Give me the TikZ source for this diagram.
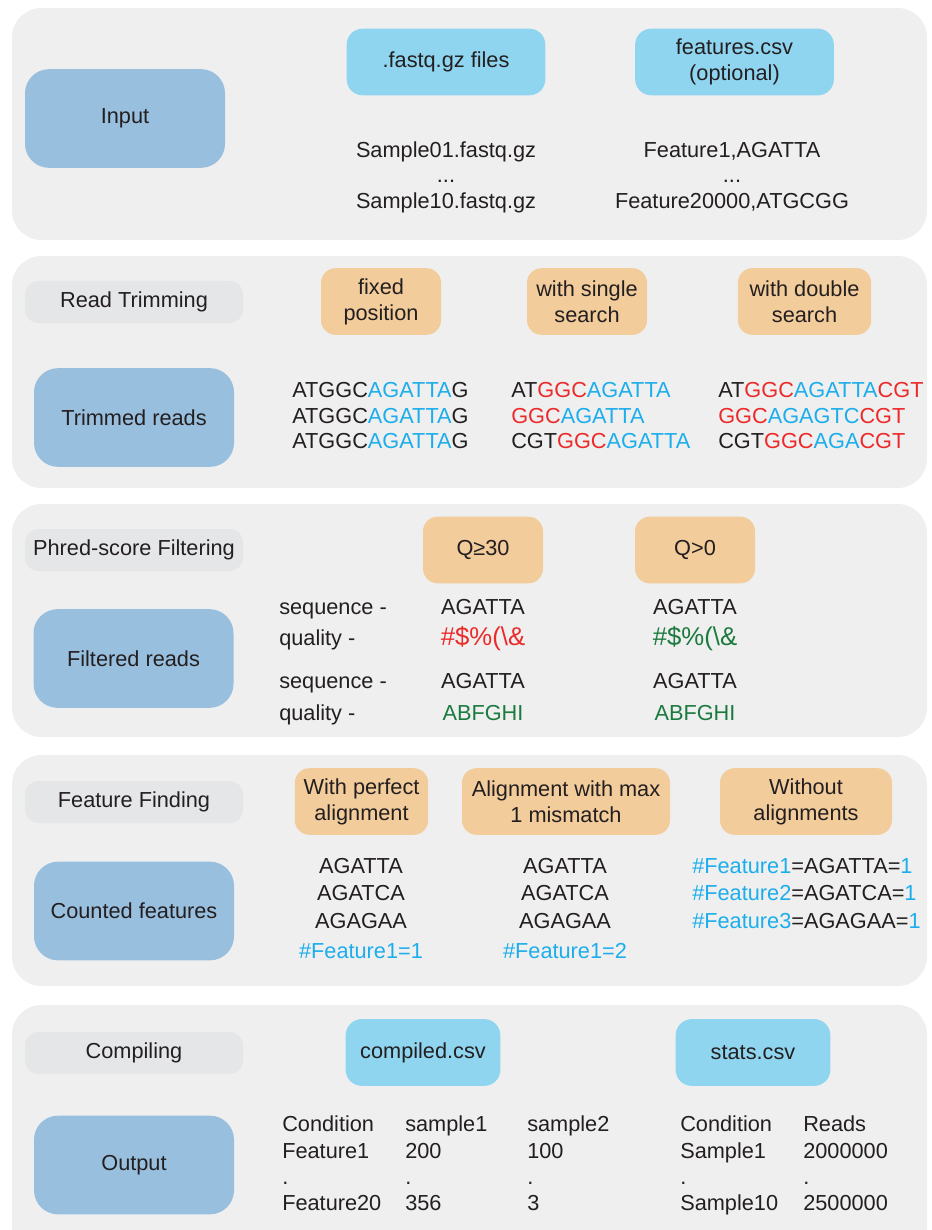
\documentclass[tikz,border=0pt]{standalone}
\usepackage{fontspec}
\setmainfont{Liberation Sans}
\usetikzlibrary{arrows}
\definecolor{panelgray}{HTML}{EFEFEF}
\definecolor{stageblue}{HTML}{99BFDF}
\definecolor{filecyan}{HTML}{8FD5F0}
\definecolor{modeorange}{HTML}{F2CC9B}
\definecolor{taggray}{HTML}{E5E6E8}
\definecolor{ink}{HTML}{231F20}
\definecolor{seqcyan}{HTML}{1CAEEC}
\definecolor{seqred}{HTML}{EC2A2A}
\definecolor{seqgreen}{HTML}{1B7A3E}
\newcommand{\seqc}[1]{\textcolor{seqcyan}{#1}}
\newcommand{\seqr}[1]{\textcolor{seqred}{#1}}
\newcommand{\seqg}[1]{\textcolor{seqgreen}{#1}}
\newcommand{\skipdots}{...}
\newcommand{\qualsym}{{\fontsize{19.3}{19.5}\selectfont\#\$\%(\textbackslash\&}}
\tikzstyle{panel}=[fill=panelgray,rounded corners=22pt]
\tikzstyle{stagebox}=[fill=stageblue,rounded corners=18pt,minimum width=150pt,minimum height=74pt,inner sep=0pt]
\tikzstyle{tagbox}=[fill=taggray,rounded corners=10pt,minimum width=163.5pt,minimum height=31.5pt,inner sep=0pt]
\tikzstyle{filebox}=[fill=filecyan,rounded corners=12pt,minimum height=50pt,inner sep=0pt,align=center]
\tikzstyle{modebox}=[fill=modeorange,rounded corners=11pt,minimum height=50pt,inner sep=0pt,align=center]
\tikzstyle{txt}=[anchor=base,inner sep=0pt]
\tikzstyle{ltxt}=[anchor=base west,inner sep=0pt]

\begin{document}
\begin{tikzpicture}[x=0.75pt,y=-0.75pt,
    every node/.style={font=\fontsize{16.3}{19.5}\selectfont,text=ink}]
	\useasboundingbox (0,0) rectangle (931,1230);
	\clip (0,0) rectangle (931,1230);

	% Draw the panels
	\foreach \top/\bot in {8/240, 256/488, 504/737, 755/986, 1005/1260}
	\fill[panel] (12,\top) rectangle (927,\bot);

	% Input
	\node[stagebox] (input) at (125,118.5) {Input};
	\node[filebox,minimum width=149pt] (fastq) at (446,62) {.fastq.gz files};
	\node[filebox,minimum width=149pt] (featcsv) at (734.5,62) {features.csv\\(optional)};
	\foreach \y/\name/\lab in {158/1/Sample01.fastq.gz, 183/2/\skipdots, 209/3/Sample10.fastq.gz}
	\node[txt] (sample\name) at (446,\y) {\lab};
	\foreach \y/\name/\lab in {158/1/{Feature1,AGATTA}, 183/2/\skipdots, 209/3/{Feature20000,ATGCGG}}
	\node[txt] (feat\name) at (732,\y) {\lab};

	% Read trimming
	\node[tagbox] (trimtag) at (134,302) {Read Trimming};
	\node[stagebox] (trimmed) at (134,417.5) {Trimmed reads};
	\foreach \x/\w/\name/\lab in {381/90/fixed/{fixed\\position}, 587/90/single/{with single\\search},
	                               804.5/100/double/{with double\\search}}
	\node[modebox,minimum width=\w pt] (\name) at (\x,301.5) {\lab};

	\foreach \y/\name in {397/1, 423/2, 448/3}
	\node[ltxt] (fixread\name) at (292,\y) {ATGGC\seqc{AGATTA}G};
	\foreach \y/\name/\seq in {397/1/{AT\seqr{GGC}\seqc{AGATTA}}, 423/2/{\seqr{GGC}\seqc{AGATTA}},
	                           448/3/{CGT\seqr{GGC}\seqc{AGATTA}}}
	\node[ltxt] (singleread\name) at (511,\y) {\seq};
	\foreach \y/\name/\seq in {397/1/{AT\seqr{GGC}\seqc{AGATTA}\seqr{CGT}}, 423/2/{\seqr{GGC}\seqc{AGAGTC}\seqr{CGT}},
	                           448/3/{CGT\seqr{GGC}\seqc{AGA}\seqr{CGT}}}
	\node[ltxt] (doubleread\name) at (718,\y) {\seq};

	% Phred-score filtering
	\node[tagbox] (phredtag) at (134,550) {Phred-score Filtering};
	\node[stagebox] (filtered) at (133.5,658.5) {Filtered reads};
	\node[modebox,minimum width=90pt] (qhigh) at (483,550) {Q≥30};
	\node[modebox,minimum width=90pt] (qlow) at (695,550) {Q>0};
	\foreach \y/\name/\lab in {614/s1/sequence -, 645/q1/quality -, 688/s2/sequence -, 720/q2/quality -}
	\node[ltxt] (lab\name) at (279,\y) {\lab};
	\foreach \y/\name/\seq in {614/s1/AGATTA, 645/q1/{\seqr{\qualsym}}, 688/s2/AGATTA, 720/q2/{\seqg{ABFGHI}}}
	\node[txt] (high\name) at (483,\y) {\seq};
	\foreach \y/\name/\seq in {614/s1/AGATTA, 645/q1/{\seqg{\qualsym}}, 688/s2/AGATTA, 720/q2/{\seqg{ABFGHI}}}
	\node[txt] (low\name) at (695,\y) {\seq};

	% Feature finding
	\node[tagbox] (findtag) at (134,802) {Feature Finding};
	\node[stagebox] (counted) at (134,911) {Counted features};
	\foreach \x/\w/\name/\lab in {361.5/100/perfect/{With perfect\\alignment}, 566/156/mismatch/{Alignment with max\\1 mismatch},
	                               806/129/noalign/{Without\\alignments}}
	\node[modebox,minimum width=\w pt] (\name) at (\x,801.5) {\lab};
	\foreach \y/\name/\seq in {873/1/AGATTA, 900/2/AGATCA, 928/3/AGAGAA, 958/4/{\seqc{\#Feature1=1}}}
	\node[txt] (perfread\name) at (361,\y) {\seq};
	\foreach \y/\name/\seq in {873/1/AGATTA, 900/2/AGATCA, 928/3/AGAGAA, 958/4/{\seqc{\#Feature1=2}}}
	\node[txt] (mismread\name) at (565,\y) {\seq};
	\foreach \y/\name/\seq in {873/1/AGATTA, 900/2/AGATCA, 928/3/AGAGAA}
	\node[ltxt] (noalread\name) at (692,\y) {\seqc{\#Feature\name}=\seq=\seqc{1}};

	% Compiling
	\node[tagbox] (compiletag) at (134,1053) {Compiling};
	\node[stagebox] (output) at (134,1165) {Output};
	\node[filebox,minimum width=116pt] (compiled) at (423,1052.5) {compiled.csv};
	\node[filebox,minimum width=116pt] (stats) at (753,1052.5) {stats.csv};
	\foreach \y/\name/\a/\b/\c in {1131/1/Condition/sample1/sample2, 1158/2/Feature1/200/100,
	                               1184/3/{.}/{.}/{.}, 1210/4/Feature20/356/3} {
	\node[ltxt] (condrow\name) at (282,\y) {\a};
	\node[ltxt] (sampA\name) at (405,\y) {\b};
	\node[ltxt] (sampB\name) at (527,\y) {\c};
	}
	\foreach \y/\name/\a/\b in {1131/1/Condition/Reads, 1158/2/Sample1/2000000,
	                            1184/3/{.}/{.}, 1210/4/Sample10/2500000} {
	\node[ltxt] (statrow\name) at (680,\y) {\a};
	\node[ltxt] (reads\name) at (803,\y) {\b};
	}
\end{tikzpicture}
\end{document}
